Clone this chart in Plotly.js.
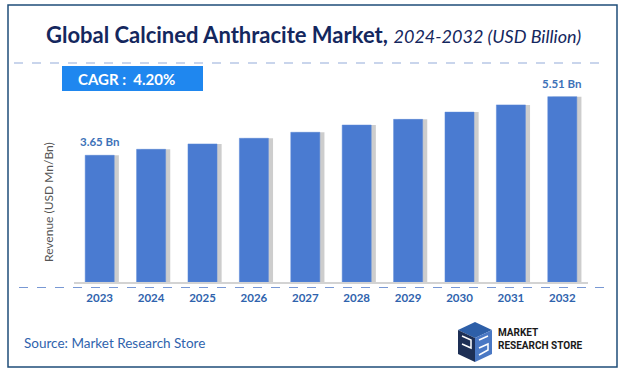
<!DOCTYPE html>
<html><head><meta charset="utf-8">
<script src="https://cdn.plot.ly/plotly-3.0.1.min.js"></script>
<style>html,body{margin:0;padding:0;background:#fff}#chart{width:622px;height:375px}</style>
</head><body><div id="chart"></div>
<script>
const years = ["2023","2024","2025","2026","2027","2028","2029","2030","2031","2032"];
const revenue = [3.65, 3.84, 4.01, 4.19, 4.38, 4.61, 4.79, 5.02, 5.25, 5.51];
const labelIdx = [0, 9];
const cagrText = "CAGR :  4.20%";

const W = 622, H = 375;
const L = 74, R = 588, T = 70, B = 282;
const Y0 = -0.372, Y1 = 6.357;
const px = p => (p - L) / (R - L);
const py = p => (B - p) / (B - T);

const shadow = {
  type: 'bar', x: years, y: revenue.map(v => v - Y0), base: Y0,
  width: 0.565, offset: -0.2825 + 0.09,
  marker: {color: 'rgba(90,90,90,0.3)'}, hoverinfo: 'skip', showlegend: false
};
const bars = {
  type: 'bar', x: years, y: revenue.map(v => v - Y0), base: Y0,
  width: 0.565,
  marker: {color: '#4a7bd1', line: {color: '#5b88d8', width: 0.5}}, showlegend: false
};

const blue = '#2f63ad';
const annotations = labelIdx.map(i => ({
  x: i, y: revenue[i], xref: 'x', yref: 'y', text: '<b>' + revenue[i].toFixed(2) + ' Bn</b>',
  showarrow: false, yanchor: 'bottom', yshift: 5,
  font: {family: 'Lato, sans-serif', size: 11.5, color: '#3d72b8'}
}));
annotations.push(
  {xref: 'paper', yref: 'paper', x: px(313), y: py(34), showarrow: false, xanchor: 'center', yanchor: 'middle',
   text: "<b>Global Calcined Anthracite Market,</b> <i><span style='font-size:18px'>2024-2032 (USD Billion)</span></i>",
   font: {family: 'Lato, sans-serif', size: 22, color: '#14275e'}},
  {xref: 'paper', yref: 'paper', x: px(76), y: py(78.5), showarrow: false, xanchor: 'left', yanchor: 'middle',
   text: '<b>' + cagrText + '</b>', font: {family: 'Lato, sans-serif', size: 15, color: '#ffffff'}},
  {xref: 'paper', yref: 'paper', x: px(48), y: py(202), showarrow: false, textangle: -90,
   xanchor: 'center', yanchor: 'middle',
   text: 'Revenue (USD Mn/Bn)', font: {family: 'Lato, sans-serif', size: 12, color: '#555555'}},
  {xref: 'paper', yref: 'paper', x: px(22), y: py(343), showarrow: false, xanchor: 'left', yanchor: 'middle',
   text: 'Source: Market Research Store', font: {family: 'Lato, sans-serif', size: 13.5, color: blue}},
  {xref: 'paper', yref: 'paper', x: px(496), y: py(339), showarrow: false, xanchor: 'left', yanchor: 'middle', align: 'left',
   text: '<b>MARKET<br>RESEARCH STORE</b>', font: {family: 'Roboto, sans-serif', size: 10, color: '#1a1a1a'}}
);

const shapes = [
  {type: 'rect', xref: 'paper', yref: 'paper', x0: px(8), x1: px(617), y0: py(5), y1: py(367),
   line: {color: '#1f4e79', width: 1.5}, fillcolor: 'rgba(0,0,0,0)'},
  {type: 'line', xref: 'paper', yref: 'paper', x0: px(14), x1: px(601), y0: py(63), y1: py(63),
   line: {color: '#93acd9', width: 1.2, dash: 'dash'}},
  {type: 'line', xref: 'paper', yref: 'paper', x0: px(19), x1: px(605), y0: py(287.5), y1: py(287.5),
   line: {color: '#7898d4', width: 1.2, dash: 'dash'}},
  {type: 'rect', xref: 'paper', yref: 'paper', x0: px(62), x1: px(203), y0: py(66), y1: py(91),
   line: {width: 0}, fillcolor: '#1f87ef'},
  {type: 'path', xref: 'paper', yref: 'paper', line: {width: 0}, fillcolor: '#2d5fa8',
   path: `M ${px(458)} ${py(330)} L ${px(475)} ${py(322)} L ${px(492)} ${py(330)} L ${px(475)} ${py(338)} Z`},
  {type: 'path', xref: 'paper', yref: 'paper', line: {width: 0}, fillcolor: '#1d2f55',
   path: `M ${px(458)} ${py(330)} L ${px(475)} ${py(338)} L ${px(475)} ${py(362)} L ${px(458)} ${py(354)} Z`},
  {type: 'path', xref: 'paper', yref: 'paper', line: {width: 0}, fillcolor: '#4a78c4',
   path: `M ${px(475)} ${py(338)} L ${px(492)} ${py(330)} L ${px(492)} ${py(354)} L ${px(475)} ${py(362)} Z`},
  {type: 'path', xref: 'paper', yref: 'paper', line: {color: '#ffffff', width: 1.5}, fillcolor: 'rgba(0,0,0,0)',
   path: `M ${px(462)} ${py(336)} L ${px(471)} ${py(340)} L ${px(471)} ${py(348)} L ${px(462)} ${py(344)} M ${px(479)} ${py(340)} L ${px(488)} ${py(336)} M ${px(479)} ${py(348)} L ${px(488)} ${py(344)} L ${px(488)} ${py(350)} L ${px(479)} ${py(355)}`}
];

const layout = {
  width: W, height: H,
  margin: {l: L, r: W - R, t: T, b: H - B},
  paper_bgcolor: '#ffffff', plot_bgcolor: '#ffffff',
  barmode: 'overlay',
  xaxis: {type: 'category', range: [-0.5, years.length - 0.5], showline: true, linecolor: '#d3d3d3', linewidth: 1.5, ticks: '',
          showgrid: false, zeroline: false, ticklabelstandoff: 5,
          tickfont: {family: 'Lato, sans-serif', size: 11.5, color: blue, weight: 'bold'}},
  yaxis: {range: [Y0, Y1], visible: false, showgrid: false, zeroline: false},
  annotations, shapes, showlegend: false
};
Plotly.newPlot('chart', [shadow, bars], layout, {displayModeBar: false, staticPlot: true});
</script></body></html>
